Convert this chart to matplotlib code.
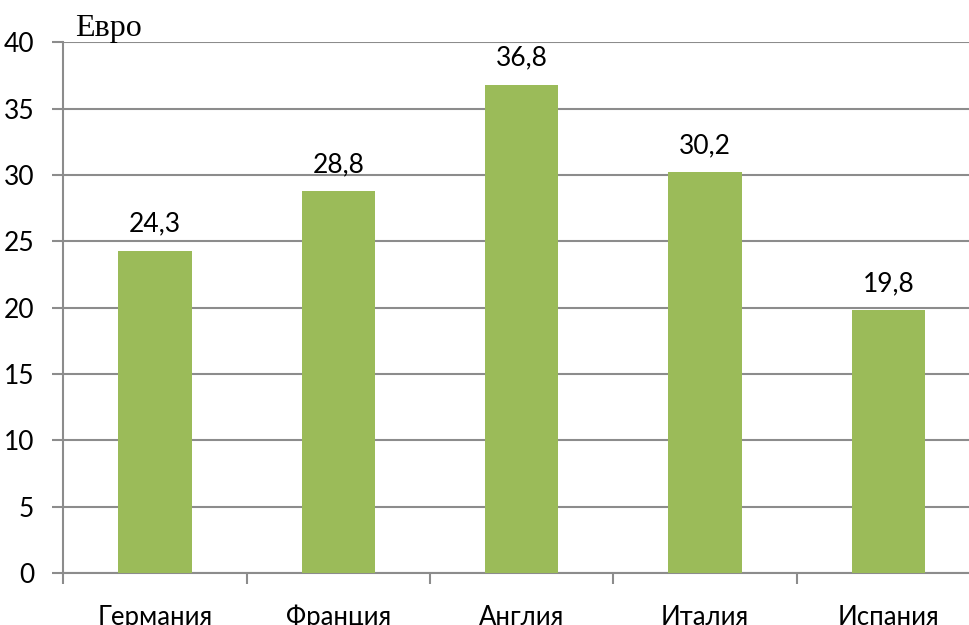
import matplotlib
matplotlib.use("Agg")
import matplotlib.pyplot as plt
import numpy as np

# ── Data ────────────────────────────────────────────────────────────────
countries = ["Германия", "Франция", "Англия", "Италия", "Испания"]
prices = [24.3, 28.8, 36.8, 30.2, 19.8]
yticks = [0, 5, 10, 15, 20, 25, 30, 35, 40]

BAR = "#9BBB59"
GRID = "#8C8C8C"
TEXT = "#000000"
FS = 19

plt.rcParams.update({
    "font.family": ["Lato", "DejaVu Sans"],
    "font.size": FS,
})

fig = plt.figure(figsize=(9.69, 6.25), dpi=100)
ax = fig.add_axes([0.0653, 0.0832, 0.946, 0.849])

x = np.arange(len(countries))
ax.bar(x, prices, width=0.4, color=BAR, zorder=3)

for xi, v in zip(x, prices):
    ax.annotate(f"{v:.1f}".replace(".", ","), (xi, v), xytext=(0, 13.7),
                textcoords="offset points", ha="center", va="baseline",
                fontsize=FS, color=TEXT)

ax.set_xlim(-0.5, len(countries) - 0.5)
ax.set_ylim(0, 40)
ax.set_yticks(yticks)
ax.yaxis.grid(True, color=GRID, linewidth=1.5, zorder=0)
ax.set_axisbelow(True)

# category boundaries as ticks, labels centred between them
ax.set_xticks(np.arange(-0.5, len(countries) + 0.5, 1.0))
ax.set_xticklabels([])
ax.set_xticks(x, minor=True)
ax.set_xticklabels(countries, minor=True)
ax.tick_params(axis="x", which="major", length=8, width=1.5, color=GRID)
ax.tick_params(axis="x", which="minor", length=0, pad=23, labelsize=18.5)
ax.tick_params(axis="y", length=8, width=1.5, color=GRID, pad=13, labelsize=FS)

for side in ("top", "right"):
    ax.spines[side].set_visible(False)
for side in ("left", "bottom"):
    ax.spines[side].set_color(GRID)
    ax.spines[side].set_linewidth(1.5)

fig.text(75 / 969, 1 - 36 / 625, "Евро", family="Liberation Serif",
         fontsize=23, ha="left", va="baseline", color=TEXT)

fig.savefig("out.png", dpi=100)
